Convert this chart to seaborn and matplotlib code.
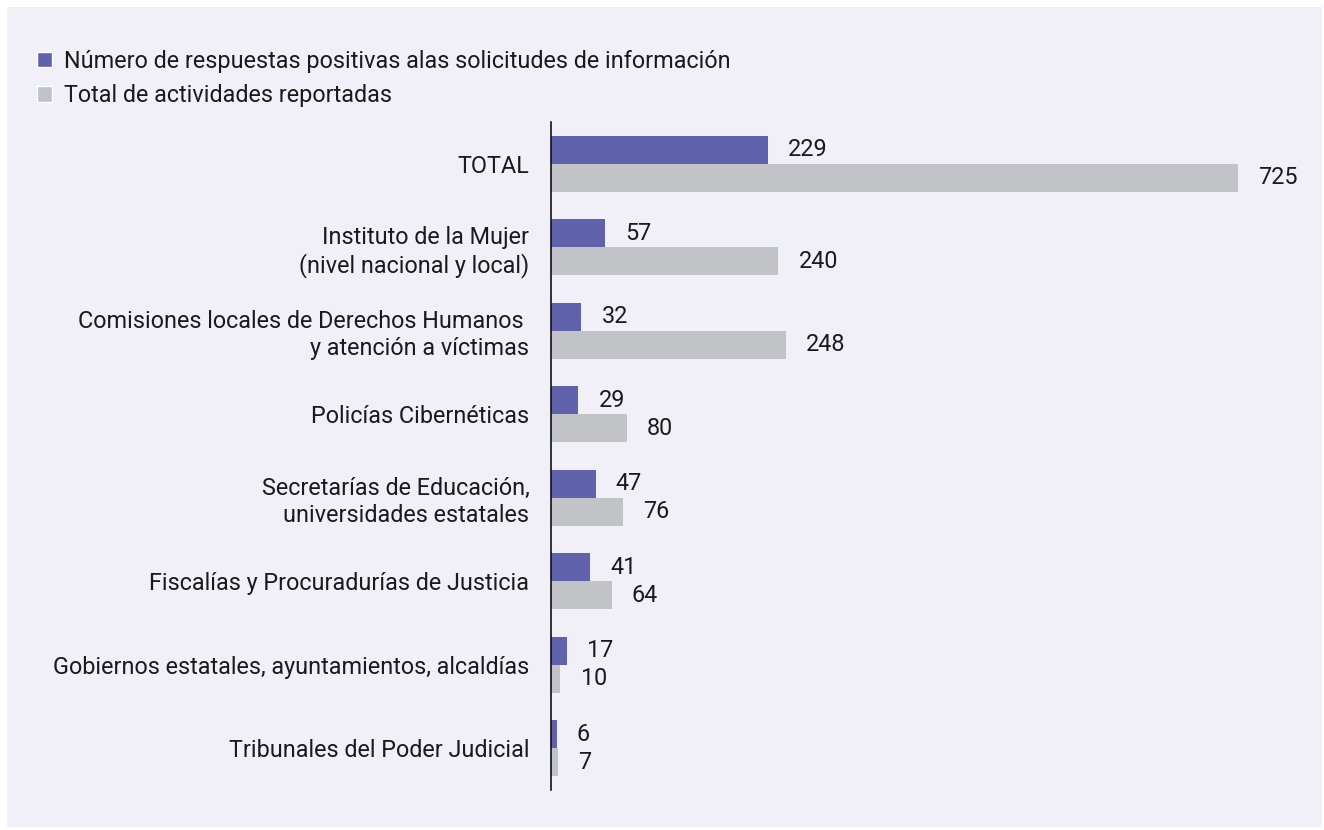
import matplotlib
matplotlib.use("Agg")
import matplotlib.pyplot as plt
import seaborn as sns
import pandas as pd
from matplotlib.patches import Rectangle, Patch

# Data
categories = [
    "TOTAL",
    "Instituto de la Mujer\n(nivel nacional y local)",
    "Comisiones locales de Derechos Humanos \ny atención a víctimas",
    "Policías Cibernéticas",
    "Secretarías de Educación,\nuniversidades estatales",
    "Fiscalías y Procuradurías de Justicia",
    "Gobiernos estatales, ayuntamientos, alcaldías",
    "Tribunales del Poder Judicial",
]
positivas = [229, 57, 32, 29, 47, 41, 17, 6]
totales = [725, 240, 248, 80, 76, 64, 10, 7]
series_names = [
    "Número de respuestas positivas alas solicitudes de información",
    "Total de actividades reportadas",
]

PURPLE = "#6062ab"
GRAY = "#c1c3c7"
BG = "#f1f0f8"
FS = 16.8

df = pd.DataFrame({
    "categoria": categories * 2,
    "valor": positivas + totales,
    "serie": [series_names[0]] * len(categories) + [series_names[1]] * len(categories),
})

sns.set_style("white")
plt.rcParams["font.family"] = ["Roboto", "DejaVu Sans"]

fig = plt.figure(figsize=(13.24, 8.3), dpi=100)
fig.patch.set_facecolor("white")
# lavender panel with thin white border
fig.patches.append(Rectangle((7 / 1324, 3 / 830), 1315 / 1324, 820 / 830,
                             transform=fig.transFigure, facecolor=BG,
                             edgecolor="none", zorder=-10))

ax = fig.add_axes([551 / 1324, 1 - 790 / 830, (1300 - 551) / 1324, (790 - 122) / 830])
ax.set_facecolor("none")

sns.barplot(data=df, y="categoria", x="valor", hue="serie", orient="h",
            palette=[PURPLE, GRAY], width=0.667, gap=0, ax=ax,
            legend=False, saturation=1, linewidth=0)

for cont in ax.containers:
    ax.bar_label(cont, padding=14.5, fontsize=FS, color="#1a1a1a")

ax.set_xlim(0, 791)
ax.set_ylim(7.5, -0.5)
ax.set_xlabel("")
ax.set_ylabel("")
ax.set_xticks([])
ax.tick_params(axis="y", length=0, pad=15.5, labelsize=FS, labelcolor="#1a1a1a")
for side in ["top", "right", "bottom"]:
    ax.spines[side].set_visible(False)
ax.spines["left"].set_color("#111111")
ax.spines["left"].set_linewidth(1.2)

handles = [Patch(facecolor=PURPLE, label=series_names[0]),
           Patch(facecolor=GRAY, label=series_names[1])]
fig.legend(handles=handles, loc="center left", bbox_to_anchor=(37 / 1324, 1 - 78.5 / 830),
           frameon=False, fontsize=FS, handlelength=0.64, handleheight=0.64,
           handletextpad=0.5, labelspacing=0.5, borderaxespad=0,
           borderpad=0, labelcolor="#1a1a1a")

fig.savefig("out.png", dpi=100, facecolor="white")
